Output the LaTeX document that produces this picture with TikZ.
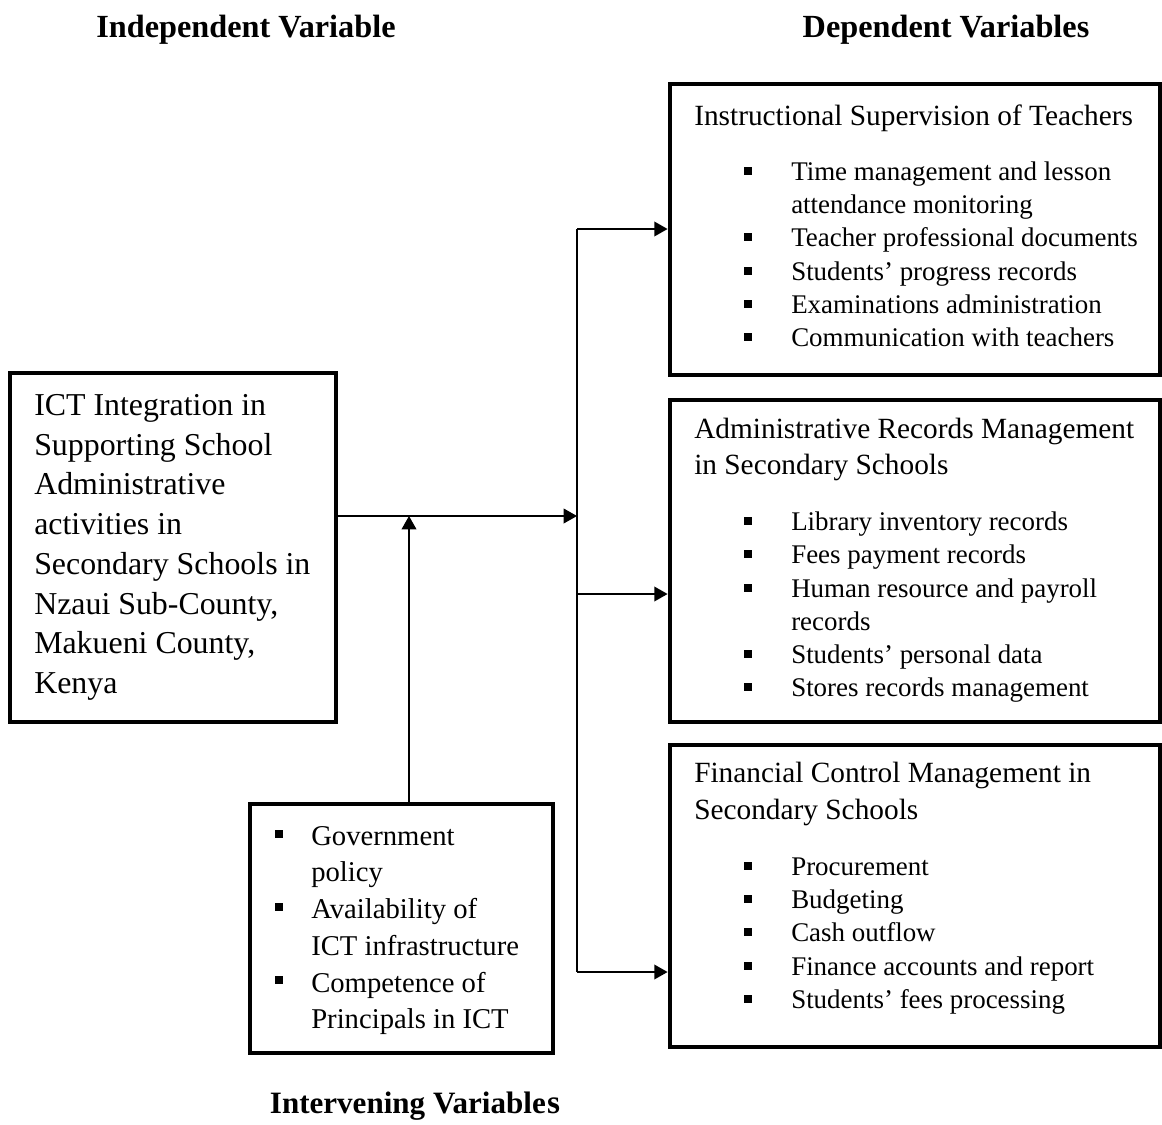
\documentclass[tikz,border=0pt]{standalone}
\usepackage{fontspec}
\setmainfont{Liberation Serif}
\usetikzlibrary{arrows.meta,fit}
\begin{document}
\begin{tikzpicture}[x=0.75pt,y=-0.75pt,
 box/.style={draw,line width=3.6pt,inner sep=0pt},
 conn/.style={line width=1.2pt},
 arr/.style={conn,-{Triangle[length=10pt,width=11pt]}},
 rt/.style={anchor=base west,inner sep=0pt,font=\fontsize{20.2}{24}\selectfont},
 tt/.style={anchor=base west,inner sep=0pt,font=\fontsize{22}{26}\selectfont},
 lt/.style={anchor=base west,inner sep=0pt,font=\fontsize{23.9}{29}\selectfont},
 it/.style={anchor=base west,inner sep=0pt,font=\fontsize{21.5}{27}\selectfont},
 hd/.style={anchor=base,inner sep=0pt,font=\fontsize{24.2}{28}\selectfont\bfseries},
 bul/.style={fill,minimum size=5.5pt,inner sep=0pt}
]
\useasboundingbox (0,0) rectangle (1162,1124);
% headings
\node[hd] (h1) at (246,38) {Independent Variable};
\node[hd] (h2) at (946,38) {Dependent Variables};
\node[hd,font=\fontsize{23.3}{28}\selectfont\bfseries] (h3) at (415,1113) {Intervening Variable\kern1pt{\fontsize{25}{28}\selectfont s}};
% boxes
\node[box,fit={(10,373)(336,722)}] (L) {};
\node[box,fit={(250,804)(553,1053)}] (I) {};
\node[box,fit={(670,84)(1160,375)}] (B1) {};
\node[box,fit={(670,400)(1160,722)}] (B2) {};
\node[box,fit={(670,745)(1160,1047)}] (B3) {};
% left box text
\node[lt] (l1) at (34,415) {ICT Integration in};
\node[lt] (l2) at (34,455) {Supporting School};
\node[lt] (l3) at (34,494) {Administrative};
\node[lt] (l4) at (34,534) {activities in};
\node[lt] (l5) at (34,574) {Secondary Schools in};
\node[lt] (l6) at (34,614) {Nzaui Sub-County,};
\node[lt] (l7) at (34,653) {Makueni County,};
\node[lt] (l8) at (34,693) {Kenya};
% intervening box text
\node[bul] (ib1) at (279,834) {};
\node[it] (i1) at (311,845) {Government};
\node[it] (i2) at (311,881) {policy};
\node[bul] (ib2) at (279,907) {};
\node[it] (i3) at (311,918) {Availability of};
\node[it] (i4) at (311,955) {ICT infrastructure};
\node[bul] (ib3) at (279,980) {};
\node[it] (i5) at (311,992) {Competence of};
\node[it] (i6) at (311,1028) {Principals in ICT};
% box 1
\node[tt] (t1) at (694,125) {Instructional Supervision of Teachers};
\node[bul] (b11) at (748,171) {};
\node[rt] (a1) at (791,180) {Time management and lesson};
\node[rt] (a2) at (791,213) {attendance monitoring};
\node[bul] (b12) at (748,237) {};
\node[rt] (a3) at (791,246) {Teacher professional documents};
\node[bul] (b13) at (748,271) {};
\node[rt] (a4) at (791,280) {Students’ progress records};
\node[bul] (b14) at (748,304) {};
\node[rt] (a5) at (791,313) {Examinations administration};
\node[bul] (b15) at (748,337) {};
\node[rt] (a6) at (791,346) {Communication with teachers};
% box 2
\node[tt] (t2a) at (694,438) {Administrative Records Management};
\node[tt] (t2b) at (694,474) {in Secondary Schools};
\node[bul] (b21) at (748,521) {};
\node[rt] (c1) at (791,530) {Library inventory records};
\node[bul] (b22) at (748,554) {};
\node[rt] (c2) at (791,563) {Fees payment records};
\node[bul] (b23) at (748,588) {};
\node[rt] (c3) at (791,597) {Human resource and payroll};
\node[rt] (c4) at (791,630) {records};
\node[bul] (b24) at (748,654) {};
\node[rt] (c5) at (791,663) {Students’ personal data};
\node[bul] (b25) at (748,687) {};
\node[rt] (c6) at (791,696) {Stores records management};
% box 3
\node[tt] (t3a) at (694,782) {Financial Control Management in};
\node[tt] (t3b) at (694,819) {Secondary Schools};
\node[bul] (b31) at (748,866) {};
\node[rt] (d1) at (791,875) {Procurement};
\node[bul] (b32) at (748,899) {};
\node[rt] (d2) at (791,908) {Budgeting};
\node[bul] (b33) at (748,932) {};
\node[rt] (d3) at (791,941) {Cash outflow};
\node[bul] (b34) at (748,966) {};
\node[rt] (d4) at (791,975) {Finance accounts and report};
\node[bul] (b35) at (748,999) {};
\node[rt] (d5) at (791,1008) {Students’ fees processing};
% connectors
\coordinate (jt) at (577,229);
\coordinate (jm) at (577,516);
\coordinate (jc) at (577,594);
\coordinate (jb) at (577,972);
\coordinate (ji) at (409,516);
\draw[conn] (jt) -- (jb);
\draw[arr] (L.east |- jm) -- (jm);
\draw[arr] (I.north -| ji) -- (ji);
\draw[arr] (jt) -- (B1.west |- jt);
\draw[arr] (jc) -- (B2.west |- jc);
\draw[arr] (jb) -- (B3.west |- jb);
\end{tikzpicture}
\end{document}
